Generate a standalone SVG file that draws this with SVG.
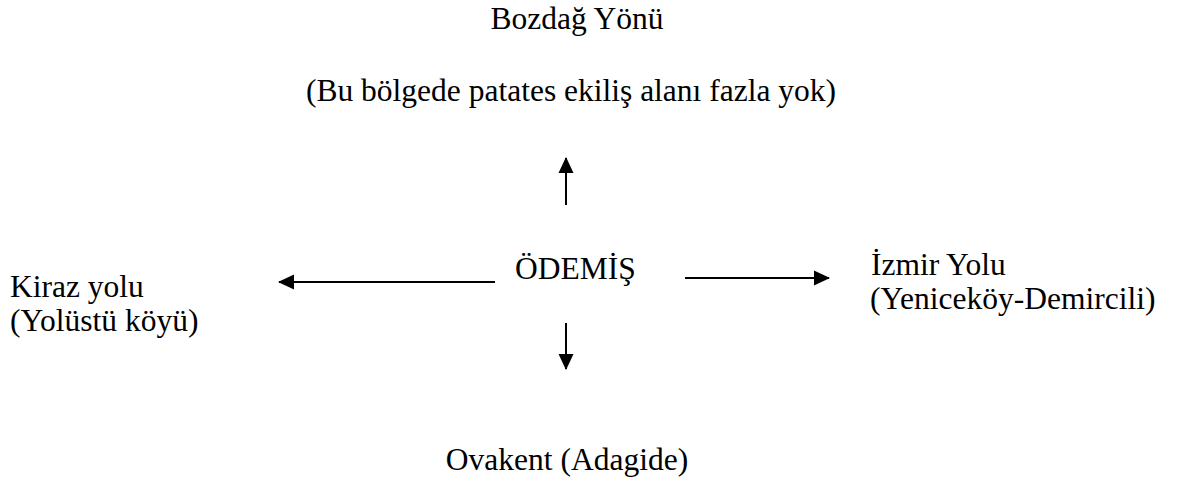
<svg xmlns="http://www.w3.org/2000/svg" width="1188" height="484" viewBox="0 0 1188 484">
<style>
.t{font-family:'Liberation Serif','Times New Roman',Times,serif;font-size:31.5px;fill:#000}
.c{text-anchor:middle}
.ln{stroke:#000;stroke-width:2;fill:none}
</style>
<defs>
<marker id="ah" markerUnits="userSpaceOnUse" markerWidth="16" markerHeight="16" viewBox="0 0 16 16" refX="15" refY="8" orient="auto">
<path d="M0,0.5 L16,8 L0,15.5 Z" fill="#000"/>
</marker>
</defs>
<rect width="1188" height="484" fill="#fff"/>
<g id="connectors">
<line class="ln" x1="566" y1="205" x2="566" y2="158" marker-end="url(#ah)"/>
<line class="ln" x1="566" y1="323" x2="566" y2="369" marker-end="url(#ah)"/>
<line class="ln" x1="495" y1="282" x2="279" y2="282" marker-end="url(#ah)"/>
<line class="ln" x1="685" y1="278" x2="829" y2="278" marker-end="url(#ah)"/>
</g>
<g font-family="Liberation Serif, serif" font-size="31.5">
<g id="north">
<text class="t c" x="577" y="29">Bozdağ Yönü</text>
<text class="t c" x="571" y="101">(Bu bölgede patates ekiliş alanı fazla yok)</text>
</g>
<g id="center">
<text class="t" x="515" y="279">ÖDEMİŞ</text>
</g>
<g id="west">
<text class="t" x="10" y="297">Kiraz yolu</text>
<text class="t" x="10" y="331">(Yolüstü köyü)</text>
</g>
<g id="east">
<text class="t" x="871" y="275">İzmir Yolu</text>
<text class="t" x="870" y="309">(Yeniceköy-Demircili)</text>
</g>
<g id="south">
<text class="t c" x="567" y="470">Ovakent (Adagide)</text>
</g>
</g>
</svg>
